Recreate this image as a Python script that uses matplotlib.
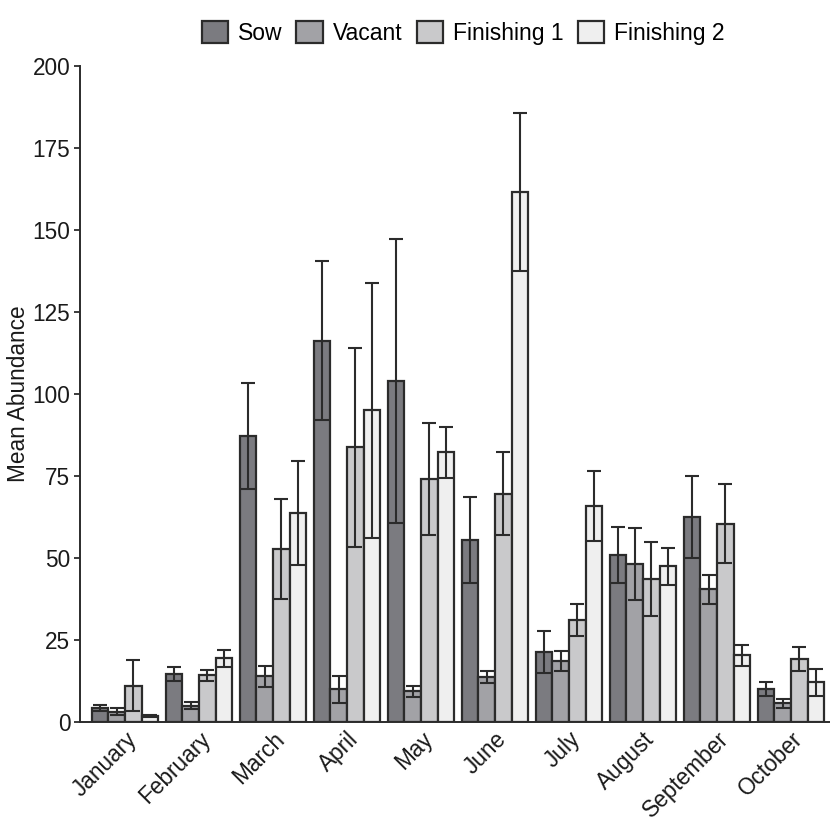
import matplotlib
matplotlib.use('Agg')
from matplotlib import pyplot as plt
import numpy as np

plt.rcParams['font.family'] = ['Liberation Sans', 'DejaVu Sans']

months = ['January', 'February', 'March', 'April', 'May', 'June',
          'July', 'August', 'September', 'October']
groups = ['Sow', 'Vacant', 'Finishing 1', 'Finishing 2']

sow = [4.3, 14.6, 87.2, 116.2, 104.0, 55.5, 21.3, 51.0, 62.6, 10.0]
sow_se = [0.9, 2.1, 16.2, 24.2, 43.4, 13.2, 6.3, 8.6, 12.5, 2.1]
vacant = [3.1, 5.0, 14.0, 10.0, 9.3, 13.6, 18.5, 48.2, 40.4, 5.7]
vacant_se = [1.1, 1.1, 3.2, 4.1, 1.6, 1.8, 3.1, 10.9, 4.4, 1.3]
fin1 = [11.0, 14.3, 52.7, 83.7, 74.1, 69.6, 31.1, 43.5, 60.5, 19.2]
fin1_se = [7.8, 1.7, 15.3, 30.3, 17.0, 12.6, 5.0, 11.3, 12.0, 3.7]
fin2 = [1.9, 19.5, 63.7, 95.0, 82.2, 161.6, 65.8, 47.5, 20.4, 12.1]
fin2_se = [0.3, 2.6, 15.8, 38.8, 7.8, 24.2, 10.6, 5.6, 3.2, 4.1]

colors = ['#7b7b80', '#a2a2a6', '#c9c9cb', '#efefef']
edge = '#2b2b2b'

fig = plt.figure(figsize=(8.3, 8.21), dpi=100)
ax = fig.add_axes([0.0964, 0.1206, 0.9036, 0.799])

x = np.arange(len(months))
w = 0.225
series = [(sow, sow_se), (vacant, vacant_se), (fin1, fin1_se), (fin2, fin2_se)]
for i, (vals, se) in enumerate(series):
    pos = x + (i - 1.5) * w
    ax.bar(pos, vals, width=w, color=colors[i], edgecolor=edge, linewidth=1.6,
           label=groups[i], zorder=2)
    ax.errorbar(pos, vals, yerr=se, fmt='none', ecolor=edge, elinewidth=1.5,
                capsize=5, capthick=1.5, zorder=3)

ax.set_xlim(-0.608, 9.527)
ax.set_ylim(0, 200)
ax.set_yticks([0, 25, 50, 75, 100, 125, 150, 175, 200])
ax.set_xticks(x)
ax.set_xticklabels(months, rotation=45, ha='right', rotation_mode='anchor')
ax.tick_params(axis='both', labelsize=16.3, colors='#1a1a1a', length=4, width=1.2)
ax.tick_params(axis='x', length=0, pad=4)
ax.tick_params(axis='y', pad=3)
ax.set_ylabel('Mean Abundance', fontsize=16.3, color='#1a1a1a', labelpad=2)
for s in ['top', 'right']:
    ax.spines[s].set_visible(False)
for s in ['left', 'bottom']:
    ax.spines[s].set_linewidth(1.4)
    ax.spines[s].set_color('#2b2b2b')

fig.legend(loc='upper center', bbox_to_anchor=(0.558, 1.0), ncol=4, frameon=False,
           fontsize=16.5, handlelength=1.15, handleheight=1.15, handletextpad=0.45,
           columnspacing=0.6)

fig.savefig('out.png', dpi=100)
